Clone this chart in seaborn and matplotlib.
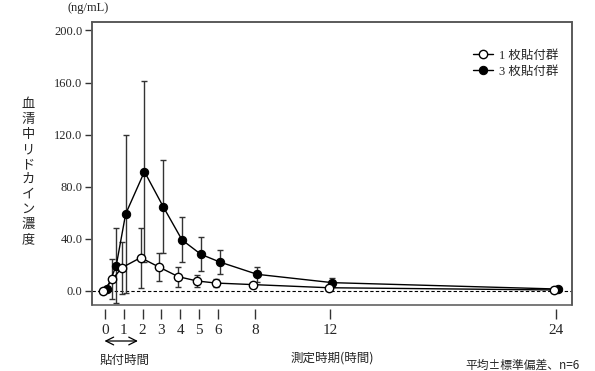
import numpy as np
import pandas as pd
import seaborn as sns
import matplotlib.pyplot as plt
from matplotlib.patches import Rectangle

hours = [0, 0.5, 1, 2, 3, 4, 5, 6, 8, 12, 24]
tick_hours = [0, 1, 2, 3, 4, 5, 6, 8, 12, 24]

one_mean = [0.0, 9.0, 17.9, 25.6, 18.2, 11.0, 7.7, 6.1, 4.9, 2.5, 0.8]
one_sd = [0.0, 15.5, 20.0, 23.0, 10.8, 7.7, 4.6, 3.2, 1.5, 1.0, 0.5]
three_mean = [1.5, 19.5, 59.1, 91.6, 64.7, 39.2, 28.2, 22.3, 12.8, 6.4, 1.5]
three_sd = [0.5, 28.7, 60.5, 69.5, 35.5, 17.3, 13.2, 9.2, 6.0, 3.7, 0.6]

labels = ["1 枚貼付群", "3 枚貼付群"]

sns.set_theme(style="white")
plt.rcParams["font.family"] = ["Liberation Serif", "Noto Sans CJK JP"]

fig = plt.figure(figsize=(5.95, 3.71), dpi=100)
ax = fig.add_axes([92 / 595, 66 / 371, 480 / 595, 283 / 371])

df1 = pd.DataFrame({"t": np.array(hours) - 0.1, "c": one_mean})
df3 = pd.DataFrame({"t": np.array(hours) + 0.1, "c": three_mean})

ekw = dict(fmt="none", ecolor="#333333", elinewidth=1.0, capsize=2.5, capthick=1.0)
ax.errorbar(df1["t"], df1["c"], yerr=one_sd, zorder=2, **ekw)
ax.errorbar(df3["t"], df3["c"], yerr=three_sd, zorder=2, **ekw)

sns.lineplot(data=df3, x="t", y="c", ax=ax, color="black", lw=1.0, marker="o",
             markersize=6, markerfacecolor="black", markeredgecolor="black",
             label=labels[1], zorder=3)
sns.lineplot(data=df1, x="t", y="c", ax=ax, color="black", lw=1.0, marker="o",
             markersize=6, markerfacecolor="white", markeredgecolor="black",
             markeredgewidth=1.0, label=labels[0], zorder=4)

ax.axhline(0, color="black", lw=0.8, ls=(0, (3, 2)), zorder=1)

ax.set_xlim(-0.69, 24.85)
ax.set_ylim(-10.75, 206.5)
ax.set_yticks([0, 40, 80, 120, 160, 200])
ax.set_yticklabels([f"{v:.1f}" for v in [0, 40, 80, 120, 160, 200]], fontsize=9)
ax.set_xticks(tick_hours)
ax.set_xticklabels([str(h) for h in tick_hours], fontsize=9)
ax.set_xlabel("")
ax.set_ylabel("")

for s in ["top", "right", "left"]:
    ax.spines[s].set_color("#555555")
    ax.spines[s].set_linewidth(1.1)
ax.spines["bottom"].set_position(("outward", 3))
ax.spines["bottom"].set_color("none")
ax.add_patch(Rectangle((0, 0), 1, 1, transform=ax.transAxes, fill=False,
                       edgecolor="#555555", lw=1.1, clip_on=False, zorder=5))

ax.tick_params(axis="y", direction="out", length=5, width=1.0, color="#333333", pad=2,
               left=True)
ax.tick_params(axis="x", direction="out", length=7, width=1.0, color="#333333", pad=4,
               bottom=True)

h, l = ax.get_legend_handles_labels()
leg = ax.legend(h[::-1], l[::-1], loc="upper left", bbox_to_anchor=(0.78, 0.925),
                frameon=False, fontsize=9, handlelength=1.6, handletextpad=0.5,
                borderpad=0, labelspacing=0.35)

fig.text(88 / 595, 1 - 8 / 371, "(ng/mL)", ha="center", va="center", fontsize=9)
fig.text(28 / 595, 1 - 172 / 371, "\n".join(list("血清中リドカイン濃度")),
         ha="center", va="center", fontsize=9.5, linespacing=1.2,
         family=["Noto Sans CJK JP"])

ax.annotate("", xy=(140.7 / 595, 1 - 341 / 371), xytext=(101.7 / 595, 1 - 341 / 371),
            xycoords="figure fraction", textcoords="figure fraction",
            arrowprops=dict(arrowstyle="<->", color="black", lw=0.9,
                            mutation_scale=14))

fig.text(100 / 595, 1 - 360 / 371, "貼付時間", ha="left", va="center", fontsize=9,
         family=["Noto Sans CJK JP"])
fig.text(332 / 595, 1 - 358 / 371, "測定時期(時間)", ha="center", va="center", fontsize=9,
         family=["Noto Sans CJK JP"])
fig.text(580 / 595, 1 - 365 / 371, "平均±標準偏差、n=6", ha="right", va="center",
         fontsize=8.5, family=["Noto Sans CJK JP", "Liberation Serif"])

fig.savefig("out.png", dpi=100)
